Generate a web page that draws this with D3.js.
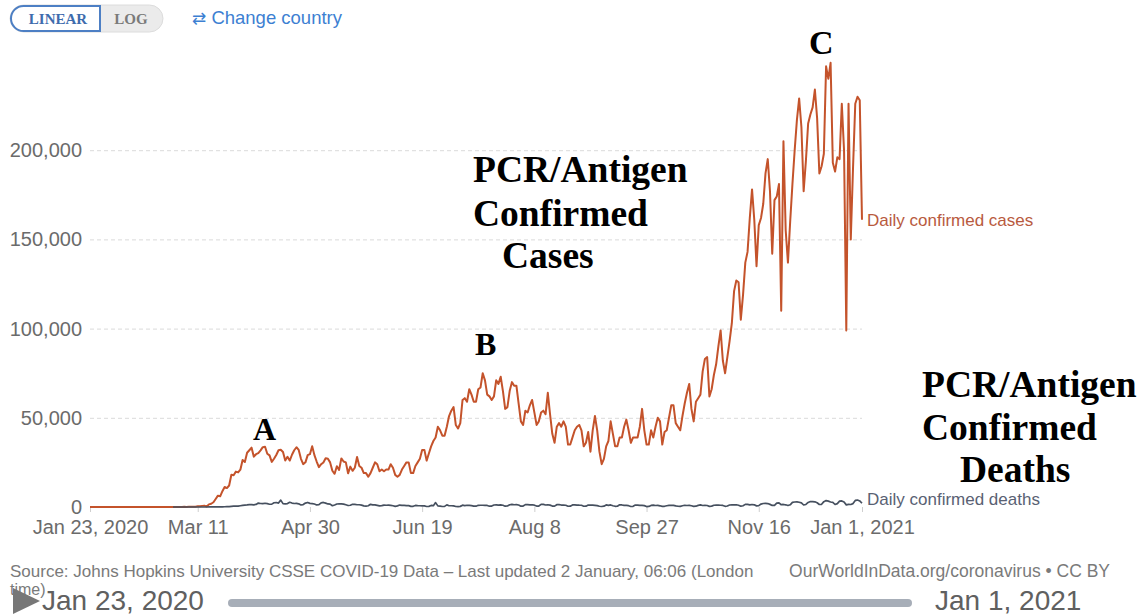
<!DOCTYPE html>
<html>
<head>
<meta charset="utf-8">
<script src="https://cdn.jsdelivr.net/npm/d3@7"></script>
<style>
  body { margin: 0; background: #fff; }
  svg { display: block; font-family: "Liberation Sans", Arial, sans-serif; }
  .grid line { stroke: #dadada; stroke-dasharray: 4,3; }
  .note { font-family: "Liberation Serif", "Times New Roman", serif; font-weight: bold; fill: #000; }
</style>
</head>
<body>
<div class="chart"></div>
<script>
var width = 1142;
var height = 615;

// daily confirmed cases, one array per month (first month starts Jan 23, 2020)
var casesJan = [0,1,0,3,0,0,0,1,1];
var casesFeb = [0,1,3,0,1,0,0,0,0,0,1,0,1,0,0,0,0,0,0,0,2,0,0,36,0,6,1,2,8];
var casesMar = [7,23,19,33,77,53,166,116,75,188,365,439,633,759,234,1467,1833,2657,4494,6367,5995,8873,11238,10618,12038,18058,17821,19821,19408,20922,26341];
var casesApr = [25200,30390,31824,33264,28219,29595,30183,31709,33536,33752,29861,28917,25306,27051,29164,31819,32114,30833,26084,28123,26039,29285,31796,33500,32000,26993,24031,25036,29054,29617];
var casesMay = [34037,29078,25501,22335,23976,24980,27367,27000,25000,20328,18617,22860,20782,27246,25508,24996,18873,22630,20289,22000,28000,23000,22000,19000,19000,17000,19000,22000,25000,24000,20000];
var casesJun = [21000,20000,21000,21000,24000,22000,18000,17000,18000,21000,23000,25000,25000,19000,19000,23000,25000,27000,32000,32000,26000,30000,34000,37000,39000,45000,43000,40000,40000,45000];
var casesJul = [51000,54000,56000,46000,44000,47000,60000,61000,59000,66000,63000,59000,59000,66000,67000,75000,71000,63000,62000,60000,62000,71000,69000,73000,65000,55000,56000,65000,70000,68000,68000];
var casesAug = [58000,48000,46000,54000,53000,57000,60000,53000,46000,48000,53000,54000,52000,64000,52000,41000,36000,45000,47000,45000,48000,45000,35000,35000,39000,43000,45000,46000,43000,34000,36000];
var casesSep = [42000,31000,43000,51000,43000,31000,24000,27000,34000,37000,48000,41000,34000,34000,39000,39000,45000,49000,43000,36000,39000,39000,39000,45000,55000,43000,35000,35000,43000,39000];
var casesOct = [45000,50000,48000,35000,42000,43000,50000,57000,57000,47000,45000,43000,51000,58000,64000,69000,55000,48000,59000,61000,63000,76000,83000,84000,62000,66000,74000,80000,90000,99000,82000];
var casesNov = [75000,84000,93000,103000,121000,127000,126000,105000,119000,137000,143000,162000,178000,161000,135000,158000,162000,170000,187000,195000,177000,142000,172000,174000,181000,110000,205000,155000,137000,160000];
var casesDec = [181000,200000,217000,229000,213000,177000,194000,215000,220000,224000,234000,218000,187000,191000,198000,247000,240000,249000,193000,188000,196000,195000,226000,200000,99000,226000,150000,190000,226000,230000,228000];
var casesJan21 = [161000];

// daily confirmed deaths, starting Feb 29, 2020
var deathsFeb = [1];
var deathsMar = [0,5,1,4,1,2,3,4,4,2,8,7,10,9,11,23,30,40,53,71,78,123,150,214,264,382,467,528,454,686,924];
var deathsApr = [1052,1164,1349,1331,1238,1446,2214,1960,1888,2085,1851,1547,1607,2393,2519,2199,3856,1880,1785,1905,2662,2202,1958,2020,1769,1116,1368,2201,2554,2024];
var deathsMay = [1922,1680,1154,1319,2350,2549,2189,1715,1615,731,1156,1683,1738,1733,1635,1231,823,999,1553,1452,1250,1269,1036,625,505,693,1505,1212,1206,949,630];
var deathsJun = [766,1089,990,1022,951,688,378,659,1092,955,900,780,738,360,404,860,750,700,681,594,275,374,860,720,2460,632,507,290,356,1200];
var deathsJul = [700,700,630,270,240,350,1000,820,990,860,730,450,460,960,980,990,930,880,450,510,1130,1200,1100,1180,980,450,560,1260,1420,1250,1320];
var deathsAug = [1130,480,530,1330,1290,1240,1270,1020,520,530,1440,1480,1120,1270,1030,520,480,1300,1330,1100,1090,990,430,470,1150,1220,1100,1000,980,430,440];
var deathsSep = [1060,1030,1070,960,790,420,280,460,1180,880,1150,700,400,450,1250,1140,880,920,740,270,400,1110,1080,920,900,760,260,300,900,1000];
var deathsOct = [850,860,680,370,400,700,920,960,940,640,430,330,700,980,850,900,690,390,460,930,1160,840,930,830,370,480,990,1000,1020,980,860];
var deathsNov = [400,550,1120,1160,1210,1260,1000,460,720,1470,1440,1170,1400,1240,630,780,1650,1950,1990,1930,1480,880,930,2200,2300,1280,1420,1230,830,1230];
var deathsDec = [2600,2800,2870,2650,2350,1120,1420,2560,3050,3040,2900,2380,1390,1500,3000,3600,3300,2800,2600,1400,1900,3300,3400,2800,1200,1500,1400,1900,3700,3900,3400];
var deathsJan21 = [2100];

var yTicks = [0, 50000, 100000, 150000, 200000];
var xTickDates = ["2020-01-23","2020-03-11","2020-04-30","2020-06-19","2020-08-08","2020-09-27","2020-11-16","2021-01-01"];

var parse = d3.timeParse("%Y-%m-%d");
var casesStart = parse("2020-01-23");
var deathsStart = parse("2020-02-29");
var endDate = parse("2021-01-01");

var casesAll = [].concat(casesJan, casesFeb, casesMar, casesApr, casesMay, casesJun, casesJul, casesAug, casesSep, casesOct, casesNov, casesDec, casesJan21);
var deathsAll = [].concat(deathsFeb, deathsMar, deathsApr, deathsMay, deathsJun, deathsJul, deathsAug, deathsSep, deathsOct, deathsNov, deathsDec, deathsJan21);

var cases = casesAll.map(function(v, i){ return {date: d3.timeDay.offset(casesStart, i), value: v}; });
var deaths = deathsAll.map(function(v, i){ return {date: d3.timeDay.offset(deathsStart, i), value: v}; });

var svg = d3.select(".chart")
            .append('svg')
            .attr('width', width)
            .attr('height', height);

var x = d3.scaleTime().domain([casesStart, endDate]).range([90, 862]);
var y = d3.scaleLinear().domain([0, 250000]).range([507, 61]);

// toggle buttons
var tog = svg.append("g");
tog.append("rect").attr("x", 10).attr("y", 5).attr("width", 153).attr("height", 27)
   .attr("rx", 13.5).attr("fill", "#ebebeb").attr("stroke", "#dcdcdc");
tog.append("path")
   .attr("d", "M100,6 L23.5,6 A12.5,12.5 0 0 0 23.5,31 L100,31 Z")
   .attr("fill", "#fff").attr("stroke", "#4d7fc4").attr("stroke-width", 2);
tog.append("text").attr("x", 58).attr("y", 24).attr("text-anchor", "middle")
   .attr("font-family", "Liberation Serif, serif").attr("font-weight", "bold")
   .attr("font-size", 15).attr("fill", "#3e6cad").text("LINEAR");
tog.append("text").attr("x", 131).attr("y", 24).attr("text-anchor", "middle")
   .attr("font-family", "Liberation Serif, serif").attr("font-weight", "bold")
   .attr("font-size", 15).attr("fill", "#7a7a7a").text("LOG");
svg.append("text").attr("x", 192).attr("y", 24)
   .attr("font-size", 18.5).attr("fill", "#3d7fd2")
   .html('<tspan font-family="DejaVu Sans" font-size="17">⇄</tspan> Change country');

// gridlines + y labels
var yAxis = d3.axisLeft(y).tickValues(yTicks).tickFormat(d3.format(","))
              .tickSize(-772).tickPadding(8);
var gy = svg.append("g").attr("class", "grid").attr("transform", "translate(90,0)").call(yAxis);
gy.select(".domain").remove();
gy.selectAll(".tick").filter(function(d){ return d === 0; }).select("line").remove();
gy.selectAll("text").attr("font-size", 20).attr("fill", "#6b6b6b")
  .attr("font-family", "Liberation Sans, Arial, sans-serif");

// x axis
var fmtShort = d3.timeFormat("%b %-d");
var fmtLong = d3.timeFormat("%b %-d, %Y");
var tickDates = xTickDates.map(parse);
var xAxis = d3.axisBottom(x).tickValues(tickDates)
              .tickFormat(function(d, i){ return (i === 0 || i === tickDates.length - 1) ? fmtLong(d) : fmtShort(d); })
              .tickSize(5).tickPadding(8);
var gx = svg.append("g").attr("transform", "translate(0,507)").call(xAxis);
gx.select(".domain").remove();
gx.selectAll("line").attr("stroke", "#cfcfcf");
gx.selectAll("text").attr("font-size", 20).attr("fill", "#6b6b6b")
  .attr("font-family", "Liberation Sans, Arial, sans-serif");

// lines
var line = d3.line().x(function(d){ return x(d.date); }).y(function(d){ return y(d.value); });
svg.append("path").datum(cases).attr("d", line)
   .attr("fill", "none").attr("stroke", "#c4532b").attr("stroke-width", 2).attr("stroke-linejoin", "round");
svg.append("path").datum(deaths).attr("d", line)
   .attr("fill", "none").attr("stroke", "#46505f").attr("stroke-width", 1.7).attr("stroke-linejoin", "round");

// end labels
svg.append("text").attr("x", 867).attr("y", 226).attr("font-size", 17)
   .attr("fill", "#b85a3e").text("Daily confirmed cases");
svg.append("text").attr("x", 867).attr("y", 505).attr("font-size", 17)
   .attr("fill", "#596173").text("Daily confirmed deaths");

// annotations
function note(txt, xx, yy, size){
    svg.append("text").attr("class", "note").attr("x", xx).attr("y", yy)
       .attr("font-size", size).text(txt);
}
note("A", 253, 440, 32);
note("B", 475, 355, 32);
note("C", 809, 54, 34);
note("PCR/Antigen", 473, 182, 37.5);
note("Confirmed", 473, 226, 37.5);
note("Cases", 502, 268, 37.5);
note("PCR/Antigen", 922, 397, 37.5);
note("Confirmed", 922, 440, 37.5);
note("Deaths", 960, 482, 37.5);

// source footer
svg.append("text").attr("x", 10).attr("y", 577).attr("font-size", 17).attr("fill", "#7a7a7a")
   .text("Source: Johns Hopkins University CSSE COVID-19 Data – Last updated 2 January, 06:06 (London");
svg.append("text").attr("x", 10).attr("y", 595).attr("font-size", 16).attr("fill", "#7a7a7a")
   .text("time)");
svg.append("text").attr("x", 1110).attr("y", 577).attr("text-anchor", "end").attr("font-size", 17.5).attr("fill", "#7a7a7a")
   .text("OurWorldInData.org/coronavirus • CC BY");

// timeline
svg.append("path").attr("d", "M13,588 L13,614 L40,601 Z").attr("fill", "#777");
svg.append("text").attr("x", 42).attr("y", 610).attr("font-size", 28).attr("fill", "#606060")
   .text(fmtLong(casesStart));
svg.append("rect").attr("x", 228).attr("y", 599).attr("width", 684).attr("height", 8)
   .attr("rx", 4).attr("fill", "#a7aeb8");
svg.append("text").attr("x", 935).attr("y", 610).attr("font-size", 28).attr("fill", "#606060")
   .text(fmtLong(endDate));
</script>
</body>
</html>
